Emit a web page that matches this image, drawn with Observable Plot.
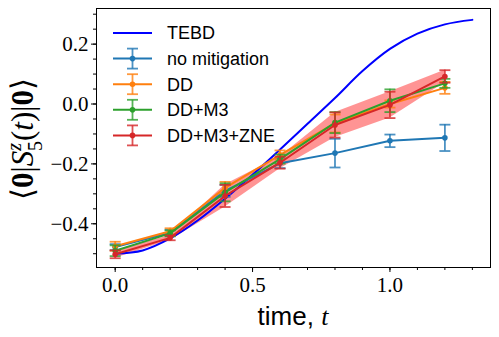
<!DOCTYPE html>
<html>
<head>
<meta charset="utf-8">
<script src="https://cdn.jsdelivr.net/npm/d3@7"></script>
<script src="https://cdn.jsdelivr.net/npm/@observablehq/plot@0.6"></script>
<style>
  html, body { margin: 0; padding: 0; background: #fff; }
  #chart { width: 499px; height: 337px; }
</style>
</head>
<body>
<div id="chart"></div>
<script>
// ---- data ----
const tebdT = [0, 0.1, 0.2, 0.3, 0.4, 0.5, 0.6, 0.7, 0.8, 0.9, 1.0, 1.1, 1.2, 1.3];
const tebdV = [-0.50, -0.489, -0.449, -0.389, -0.316, -0.236, -0.152, -0.066, 0.02, 0.11, 0.184, 0.235, 0.266, 0.281];

const times = [0, 0.2, 0.4, 0.6, 0.8, 1.0, 1.2];
const seriesNames = ["no mitigation", "DD", "DD+M3", "DD+M3+ZNE"];
const seriesColors = ["#1f77b4", "#ff7f0e", "#2ca02c", "#d62728"];
const noMitVal = [-0.478, -0.43, -0.29, -0.198, -0.164, -0.123, -0.113];
const noMitErr = [0.010, 0.010, 0.020, 0.016, 0.048, 0.021, 0.044];
const ddVal    = [-0.475, -0.425, -0.28, -0.17, -0.065, 0.0, 0.054];
const ddErr    = [0.015, 0.010, 0.020, 0.015, 0.030, 0.012, 0.020];
const m3Val    = [-0.49, -0.432, -0.295, -0.184, -0.062, 0.011, 0.069];
const m3Err    = [0.018, 0.010, 0.030, 0.015, 0.035, 0.038, 0.015];
const zneVal   = [-0.502, -0.447, -0.307, -0.196, -0.07, -0.003, 0.092];
const zneErr   = [0.013, 0.008, 0.037, 0.020, 0.042, 0.044, 0.021];

const yMajor = [-0.4, -0.2, 0.0, 0.2];
const xMajor = [0.0, 0.5, 1.0];

// ---- build tables ----
const tebd = tebdT.map((t, i) => ({t, v: tebdV[i]}));
const allVals = [noMitVal, ddVal, m3Val, zneVal];
const allErrs = [noMitErr, ddErr, m3Err, zneErr];
const pts = [];
seriesNames.forEach((s, k) => {
  times.forEach((t, i) => {
    pts.push({series: s, t, v: allVals[k][i], e: allErrs[k][i], lo: allVals[k][i] - allErrs[k][i], hi: allVals[k][i] + allErrs[k][i]});
  });
});
const zne = pts.filter(d => d.series === "DD+M3+ZNE");

const capSymbol = {
  draw(ctx, size) {
    const r = Math.sqrt(size / Math.PI);
    ctx.moveTo(-r, 0);
    ctx.lineTo(r, 0);
  }
};

const SERIF = "'Liberation Serif', 'DejaVu Serif', serif";
const SANS = "'Liberation Sans', 'DejaVu Sans', sans-serif";
const fmt = d => (d < 0 ? "\u2212" : "") + Math.abs(d).toFixed(1);
const minorY = d3.range(-0.5, 0.3001, 0.05).map(d => +d.toFixed(2));
const minorX = d3.range(0, 1.3001, 0.1).map(d => +d.toFixed(1));

const marks = [
  Plot.areaY(zne, {x: "t", y1: "lo", y2: "hi", fill: "#ff0000", fillOpacity: 0.42}),
  Plot.line(tebd, {x: "t", y: "v", stroke: "#0000ff", strokeWidth: 2, curve: "catmull-rom"})
];
seriesNames.forEach((s, k) => {
  const d = pts.filter(p => p.series === s);
  const c = seriesColors[k];
  marks.push(
    Plot.ruleX(d, {x: "t", y1: "lo", y2: "hi", stroke: c, strokeWidth: 1.8, strokeOpacity: 0.8}),
    Plot.dot(d, {x: "t", y: "lo", symbol: capSymbol, r: 5.5, stroke: c, strokeWidth: 1.8, strokeOpacity: 0.8, fill: "none"}),
    Plot.dot(d, {x: "t", y: "hi", symbol: capSymbol, r: 5.5, stroke: c, strokeWidth: 1.8, strokeOpacity: 0.8, fill: "none"}),
    Plot.line(d, {x: "t", y: "v", stroke: c, strokeWidth: 2}),
    Plot.dot(d, {x: "t", y: "v", r: 2.8, fill: c, stroke: "none"})
  );
});
marks.push(
  Plot.axisY({ticks: minorY, tickSize: 3, tickFormat: () => ""}),
  Plot.axisY({ticks: yMajor, tickSize: 5, tickPadding: 3, tickFormat: fmt, fontSize: 21, fontFamily: SERIF}),
  Plot.axisX({ticks: minorX, tickSize: 3, tickFormat: () => ""}),
  Plot.axisX({ticks: xMajor, tickSize: 5, tickPadding: 5, tickFormat: d => d.toFixed(1), fontSize: 21, fontFamily: SERIF}),
  Plot.frame({stroke: "black", strokeWidth: 1})
);

const chart = Plot.plot({
  width: 499,
  height: 337,
  marginLeft: 96,
  marginRight: 9,
  marginTop: 8,
  marginBottom: 70,
  x: {domain: [-0.068, 1.366], label: null},
  y: {domain: [-0.546, 0.319], label: null},
  style: {fontFamily: SERIF, fontSize: "21px", color: "black", background: "white"},
  marks
});
document.getElementById("chart").appendChild(chart);

// ---- legend and axis labels (annotations) ----
const svg = d3.select(chart);
const legendNames = ["TEBD", ...seriesNames];
const legendColors = ["#0000ff", ...seriesColors];
const lg = svg.append("g");
legendNames.forEach((name, i) => {
  const y = 33 + i * 25.6;
  const c = legendColors[i];
  const g = lg.append("g");
  g.append("line").attr("x1", 113).attr("x2", 152).attr("y1", y).attr("y2", y)
    .attr("stroke", c).attr("stroke-width", 2);
  if (i > 0) {
    g.append("line").attr("x1", 132.5).attr("x2", 132.5).attr("y1", y - 10).attr("y2", y + 10)
      .attr("stroke", c).attr("stroke-width", 1.8).attr("stroke-opacity", 0.8);
    [y - 10, y + 10].forEach(yy => g.append("line").attr("x1", 127).attr("x2", 138).attr("y1", yy).attr("y2", yy)
      .attr("stroke", c).attr("stroke-width", 1.8).attr("stroke-opacity", 0.8));
    g.append("circle").attr("cx", 132.5).attr("cy", y).attr("r", 2.8).attr("fill", c);
  }
  g.append("text").attr("x", 167).attr("y", y).attr("dy", "0.36em")
    .style("text-anchor", "start").style("font-family", SANS).style("font-size", "18px")
    .attr("fill", "black").text(name);
});

const xl = svg.append("text").attr("x", 293).attr("y", 325)
  .style("text-anchor", "middle").style("font-family", SANS).style("font-size", "26px").attr("fill", "black");
xl.append("tspan").text("time, ");
xl.append("tspan").style("font-family", SERIF).style("font-style", "italic").text("t");

const yl = svg.append("text").attr("transform", "translate(33,139) rotate(-90)")
  .style("text-anchor", "middle").style("font-family", SERIF).style("font-size", "31px").attr("fill", "black");
yl.append("tspan").text("\u27E8");
yl.append("tspan").style("font-weight", "bold").text("0");
yl.append("tspan").text("|");
yl.append("tspan").style("font-style", "italic").text("S");
yl.append("tspan").style("font-size", "20px").attr("dy", -12).style("font-style", "italic").text("z");
yl.append("tspan").style("font-size", "20px").attr("dx", -8).attr("dy", 21).text("5");
yl.append("tspan").attr("dy", -9).text("(");
yl.append("tspan").style("font-style", "italic").text("t");
yl.append("tspan").text(")|");
yl.append("tspan").style("font-weight", "bold").text("0");
yl.append("tspan").text("\u27E9");
</script>
</body>
</html>
